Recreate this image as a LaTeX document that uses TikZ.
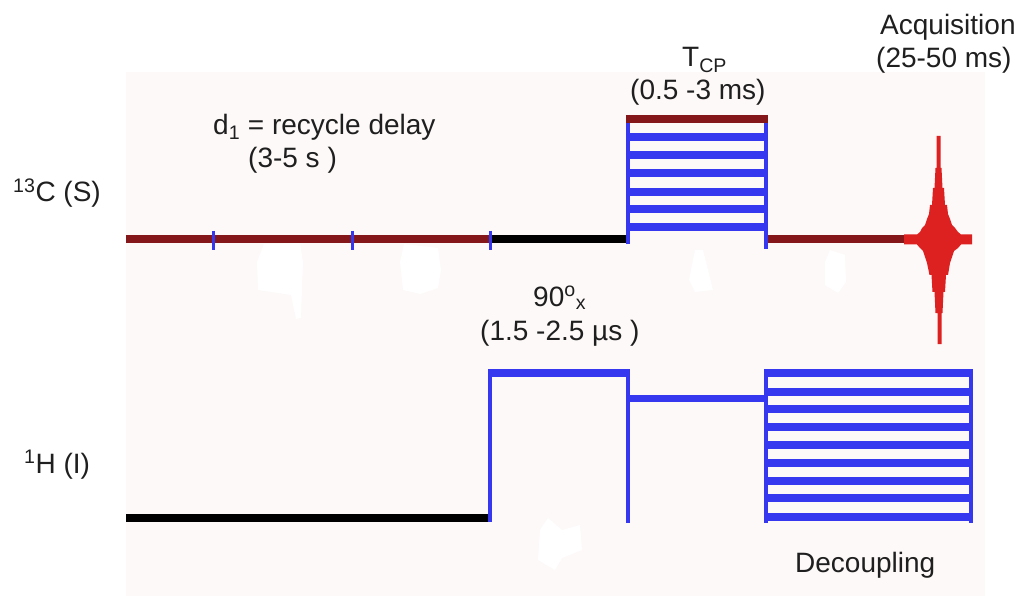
\documentclass[tikz,border=0pt]{standalone}
\usepackage{fontspec}
\setmainfont{Liberation Sans}
\definecolor{bgc}{HTML}{FDF9F8}
\definecolor{maroon}{HTML}{84171A}
\definecolor{pulse}{HTML}{3538EE}
\definecolor{fid}{HTML}{DD2020}
\tikzset{
  lab/.style={font=\fontsize{28}{32}\selectfont,inner sep=0pt,anchor=base west,text=black!88},
  mline/.style={line width=8.5pt,maroon},
  kline/.style={line width=8pt,black},
  bline/.style={line width=7.5pt,pulse},
  vline/.style={line width=3.5pt,pulse},
  tick/.style={line width=3pt,pulse},
  smudge/.style={fill=white,draw=none}
}
\begin{document}
\begin{tikzpicture}[x=1pt,y=-1pt]
\useasboundingbox (0,0) rectangle (1018,596);
\fill[bgc] (126,72) rectangle (985,596);
% smudges
\fill[smudge] (258,290) -- (257,262) -- (264,244) -- (300,243) -- (303,262) -- (302,288) -- (301,318) -- (296,319) -- (291,295) -- cycle;
\fill[smudge] (403,290) -- (400,262) -- (404,244) -- (438,248) -- (441,270) -- (438,288) -- (420,294) -- cycle;
\fill[smudge] (689,280) -- (695,250) -- (703,250) -- (713,290) -- (695,292) -- cycle;
\fill[smudge] (825,285) -- (825,262) -- (830,250) -- (845,255) -- (846,282) -- (838,293) -- cycle;
\fill[smudge] (538,560) -- (540,530) -- (548,518) -- (562,530) -- (580,525) -- (582,550) -- (562,558) -- (555,570) -- cycle;
% 13C channel
\draw[mline] (126,239) -- (490,239);
\draw[kline] (490,239) -- (627,239);
\draw[mline] (767,239) -- (904,239);
\foreach \x in {213,352,490} \draw[tick] (\x,231) -- (\x,250);
% CP block
\foreach \y in {137,155,173,192,209,227} \draw[bline] (627,\y) -- (767,\y);
\draw[vline] (628,115) -- (628,244);
\draw[vline] (766,115) -- (766,249);
\draw[line width=8pt,maroon] (626,119) -- (768,119);
% FID
\fill[fid] (904,234.5) -- (917,234.5) -- (920,232) -- (922,228) -- (925,225) -- (927,219) -- (929,214) -- (930,205) -- (932,205) -- (933,188) -- (934.5,188) -- (935.5,168) -- (936.5,168) -- (936.5,136) -- (940.5,136) -- (940.5,168) -- (941.5,168) -- (942.5,188) -- (944,188) -- (945,205) -- (947,205) -- (948,214) -- (950,219) -- (952,225) -- (955,228) -- (958,232) -- (961,234.5) -- (972,234.5) -- (972,244.5) -- (961,244.5) -- (958,248) -- (954,251) -- (952,257) -- (950,263) -- (948,275) -- (946,275) -- (945,292) -- (943.5,292) -- (942.5,313) -- (941.5,313) -- (941.5,344) -- (937.5,344) -- (937.5,313) -- (935.5,313) -- (934.5,292) -- (932.5,292) -- (931.5,275) -- (929.5,275) -- (927,263) -- (925,257) -- (923,251) -- (920,248) -- (917,244.5) -- (904,244.5) -- cycle;
% 1H channel
\draw[kline] (126,518) -- (489,518);
\draw[vline] (490,369) -- (490,522);
\draw[bline] (488,373) -- (630,373);
\draw[vline] (628,369) -- (628,523);
\draw[bline] (628,398.5) -- (766,398.5);
\foreach \y in {373,392,409,427,445,463,481,498,517} \draw[bline] (765,\y) -- (973,\y);
\draw[vline] (766,369) -- (766,523);
\draw[vline] (971,369) -- (971,523);
% labels
\node[lab] (d1) at (213,135) {d\textsubscript{1} = recycle delay};
\node[lab] (d1t) at (248,168) {(3-5 s )};
\node[lab] (c13) at (13,202) {\textsuperscript{13}C (S)};
\node[lab] (h1) at (24,473) {\textsuperscript{1}H (I)};
\node[lab] (tcp) at (682,67) {T\textsubscript{CP}};
\node[lab] (tcpt) at (630,100) {(0.5 -3 ms)};
\node[lab] (acq) at (880,35) {Acquisition};
\node[lab] (acqt) at (876,68) {(25-50 ms)};
\node[lab] (ninety) at (533,306) {90\textsuperscript{o}\textsubscript{x}};
\node[lab] (ninetyt) at (480,340) {(1.5 -2.5 µs )};
\node[lab] (dec) at (795,572) {Decoupling};
\end{tikzpicture}
\end{document}
